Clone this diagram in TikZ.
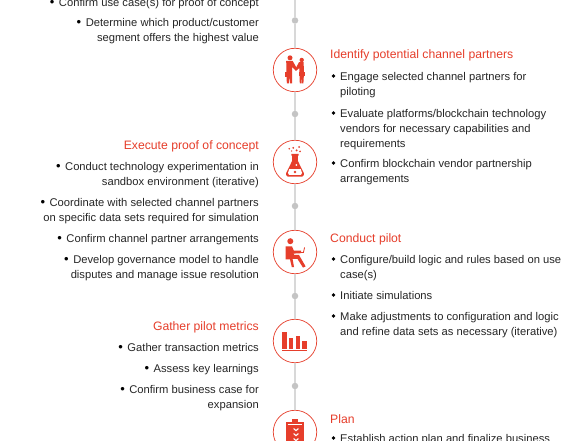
\documentclass[tikz,border=0pt]{standalone}
\usepackage{fontspec}
\setmainfont{Liberation Sans}
\usepackage{xcolor}
\usetikzlibrary{positioning}
\definecolor{pwcred}{HTML}{E63E2B}
\definecolor{bodygrey}{HTML}{262626}
\definecolor{spinegrey}{HTML}{D8D8D8}
\definecolor{knobgrey}{HTML}{C4C4C4}
\newcommand{\itemdot}{\textcolor{black}{\fontsize{13}{15}\selectfont\textbullet}\hspace{4.5pt}}

\begin{document}
\begin{tikzpicture}[x=1pt,y=-1pt,
  spine/.style={line width=2pt,spinegrey},
  knob/.style={circle,fill=knobgrey,inner sep=0pt,minimum size=6.5pt},
  ring/.style={circle,draw=pwcred,line width=0.7pt,fill=white,inner sep=0pt,minimum size=43.5pt},
  headl/.style={anchor=east,inner sep=0pt,text=pwcred,font=\fontsize{12.2}{15}\selectfont},
  headr/.style={anchor=west,inner sep=0pt,text=pwcred,font=\fontsize{12.2}{15}\selectfont},
  itemr/.style={anchor=north west,inner sep=0pt,align=left,text=bodygrey,font=\fontsize{11.2}{15}\selectfont},
  iteml/.style={anchor=north east,inner sep=0pt,align=right,text=bodygrey,font=\fontsize{11.2}{15}\selectfont},
  blt/.style={circle,fill=black,inner sep=0pt,minimum size=3.8pt},
  icon/.style={fill=pwcred,draw=none}]
  \useasboundingbox (0,0) rectangle (587,441);
  \fill[white] (0,0) rectangle (587,441);

  \coordinate (top) at (295,-3);
  \node[knob] (k1) at (295,20.5) {};
  \node[knob] (k2) at (295,114) {};
  \node[knob] (k3) at (295,206) {};
  \node[knob] (k4) at (295,296) {};
  \node[knob] (k5) at (295,386) {};
  \node[ring] (partners) at (295,70) {};
  \node[ring] (proof) at (295,162) {};
  \node[ring] (pilot) at (295,252) {};
  \node[ring] (metrics) at (295,341) {};
  \node[ring] (plan) at (295,432) {};
  \draw[spine] (top) -- (k1);
  \draw[spine] (k1) -- (partners);
  \draw[spine] (partners) -- (k2);
  \draw[spine] (k2) -- (proof);
  \draw[spine] (proof) -- (k3);
  \draw[spine] (k3) -- (pilot);
  \draw[spine] (pilot) -- (k4);
  \draw[spine] (k4) -- (metrics);
  \draw[spine] (metrics) -- (k5);
  \draw[spine] (k5) -- (plan);

  % handshake
  \begin{scope}[shift={(partners)}]
    \fill[icon] (-5,-12.2) circle (2.5);
    \fill[icon] (6.7,-10) circle (2.2);
    \fill[icon] (-8.8,-9.2) -- (-2.4,-9.2) -- (2.2,-1) -- (0.8,0.8) -- (-2.8,-3) -- (-3,13.4) -- (-5,13.4) -- (-5.5,6) -- (-6.2,13.4) -- (-8.2,13.4) -- cycle;
    \fill[icon] (-10.4,1.6) rectangle (-5.8,7.2);
    \fill[icon] (4,-7.8) -- (8.6,-7.8) -- (9,3) -- (8.4,13.4) -- (6.6,13.4) -- (6.4,6) -- (6,13.4) -- (4.8,13.4) -- (4.4,3) -- (4.4,-2) -- (1,0.8) -- (0.2,-0.8) -- cycle;
    \fill[icon] (3.8,2.2) rectangle (9.6,6);
  \end{scope}

  % flask
  \begin{scope}[shift={(proof)}]
    \fill[icon] (-3.6,-8) -- (3.6,-8) -- (3.6,-6.4) -- (2.8,-6.4) -- (2.8,-1.2) -- (8.8,11) -- (8.8,13) -- (7.2,14.6) -- (-7.2,14.6) -- (-8.8,13) -- (-8.8,11) -- (-2.8,-1.2) -- (-2.8,-6.4) -- (-3.6,-6.4) -- cycle;
    \fill[white] (-5.8,7.2) -- (5.8,7.2) -- (7,11) -- (6,12.8) -- (-6,12.8) -- (-7,11) -- cycle;
    \fill[icon] (0,10) circle (1.3);
    \fill[white] (1.4,3) circle (1);
    \fill[icon] (-5.8,-13.2) circle (0.9);
    \fill[icon] (-1.8,-14.2) circle (1);
    \fill[icon] (4.2,-15) circle (1);
    \fill[icon] (1.6,-11.6) circle (1.1);
    \fill[icon] (5,-10.6) circle (0.9);
    \fill[icon] (-3.4,-11) circle (0.7);
  \end{scope}

  % person at laptop
  \begin{scope}[shift={(pilot)}]
    \fill[icon] (-4.7,-10.8) circle (3);
    \fill[icon] (-9.4,-5.6) -- (-3,-5.6) -- (-1.2,-1.4) -- (6,-1.4) -- (6,1.2) -- (-1.6,1.6) -- (-0.8,3) -- (4,3) -- (10.6,14.4) -- (8,15.6) -- (2.4,6.8) -- (-2.4,7) -- (-1,15) -- (-3.2,15) -- (-5,7.4) -- (-9.4,7.4) -- cycle;
    \draw[pwcred,line width=0.8pt] (4,0.6) -- (8.4,0.6) -- (9.6,-4.6);
  \end{scope}

  % bar chart
  \begin{scope}[shift={(metrics)}]
    \fill[icon] (-12.7,-9) rectangle (-8.3,7.7);
    \fill[icon] (-6,-3.4) rectangle (-1.7,7.7);
    \fill[icon] (0.7,-5.4) rectangle (5,7.7);
    \fill[icon] (7.3,0.3) rectangle (11.7,7.7);
    \fill[icon] (-12.7,9.2) rectangle (11.7,10.4);
  \end{scope}

  % clipboard
  \begin{scope}[shift={(plan)}]
    \fill[icon] (-9.4,-10.4) rectangle (9.4,22);
    \fill[icon] (-3.4,-13.4) rectangle (3.4,-9);
    \draw[white,line width=0.7pt] (-7.4,-7.4) -- (7.4,-7.4);
    \draw[white,line width=1.1pt] (-1.4,-3.4) -- (1,-1.4) -- (3.4,-3.4);
    \draw[white,line width=1.1pt] (-1.4,1.6) -- (1,3.6) -- (3.4,1.6);
    \draw[white,line width=1.1pt] (-1.4,6.6) -- (1,8.6) -- (3.4,6.6);
  \end{scope}

  % left column
  \node[iteml] (l1) at (259,-2) {\itemdot Confirm use case(s) for proof of concept};
  \node[iteml] (l2) at (259,18) {\itemdot Determine which product/customer\\segment offers the highest value};
  \node[headl] (exec) at (259,146) {Execute proof of concept};
  \node[iteml] (e1) at (259,162) {\itemdot Conduct technology experimentation in\\sandbox environment (iterative)};
  \node[iteml] (e2) at (259,198) {\itemdot Coordinate with selected channel partners\\on specific data sets required for simulation};
  \node[iteml] (e3) at (259,234) {\itemdot Confirm channel partner arrangements};
  \node[iteml] (e4) at (259,255) {\itemdot Develop governance model to handle\\disputes and manage issue resolution};
  \node[headl] (gather) at (259,327) {Gather pilot metrics};
  \node[iteml] (g1) at (259,343) {\itemdot Gather transaction metrics};
  \node[iteml] (g2) at (259,364) {\itemdot Assess key learnings};
  \node[iteml] (g3) at (259,385) {\itemdot Confirm business case for\\expansion};

  % right column
  \node[headr] (identify) at (330,55) {Identify potential channel partners};
  \node[itemr] (i1) at (340,72) {Engage selected channel partners for\\piloting};
  \node[itemr] (i2) at (340,109) {Evaluate platforms/blockchain technology\\vendors for necessary capabilities and\\requirements};
  \node[itemr] (i3) at (340,159) {Confirm blockchain vendor partnership\\arrangements};
  \node[headr] (conduct) at (330,239) {Conduct pilot};
  \node[itemr] (c1) at (340,255) {Configure/build logic and rules based on use\\case(s)};
  \node[itemr] (c2) at (340,291) {Initiate simulations};
  \node[itemr] (c3) at (340,312) {Make adjustments to configuration and logic\\and refine data sets as necessary (iterative)};
  \node[headr] (plant) at (330,419) {Plan};
  \node[itemr] (p1) at (340,434) {Establish action plan and finalize business};

  \node[blt] (bi1) at (333.5,76) {};
  \node[blt] (bi2) at (333.5,113) {};
  \node[blt] (bi3) at (333.5,163) {};
  \node[blt] (bc1) at (333.5,259) {};
  \node[blt] (bc2) at (333.5,295) {};
  \node[blt] (bc3) at (333.5,316) {};
  \node[blt] (bp1) at (333.5,438) {};
\end{tikzpicture}
\end{document}
